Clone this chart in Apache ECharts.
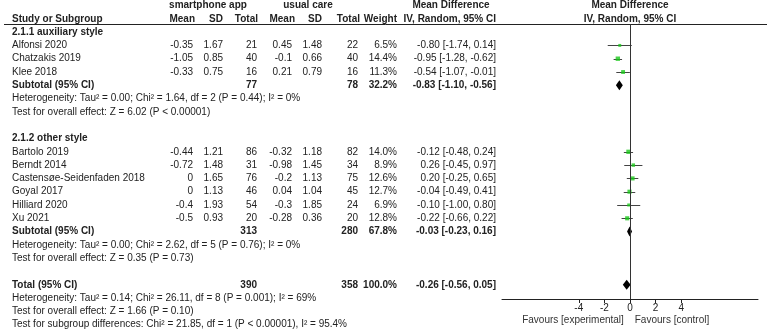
<!DOCTYPE html>
<html>
<head>
<meta charset="utf-8">
<script src="https://cdn.jsdelivr.net/npm/echarts@6/dist/echarts.min.js"></script>
<style>
html, body { margin: 0; padding: 0; background: #fff; }
#forestChart { width: 767px; height: 334px; }
</style>
</head>
<body>
<div id="forestChart"></div>
<script>
// ---- data ----
var groupNames = ['2.1.1 auxiliary style', '2.1.2 other style'];
var groupSizes = [3, 6];

var studyNames = ['Alfonsi 2020', 'Chatzakis 2019', 'Klee 2018',
    'Bartolo 2019', 'Berndt 2014', 'Castensøe-Seidenfaden 2018', 'Goyal 2017', 'Hilliard 2020', 'Xu 2021'];
var expMean = [-0.35, -1.05, -0.33, -0.44, -0.72, 0, 0, -0.4, -0.5];
var expSD = [1.67, 0.85, 0.75, 1.21, 1.48, 1.65, 1.13, 1.93, 0.93];
var expN = [21, 40, 16, 86, 31, 76, 46, 54, 20];
var ctlMean = [0.45, -0.1, 0.21, -0.32, -0.98, -0.2, 0.04, -0.3, -0.28];
var ctlSD = [1.48, 0.66, 0.79, 1.18, 1.45, 1.13, 1.04, 1.85, 0.36];
var ctlN = [22, 40, 16, 82, 34, 75, 45, 24, 20];
var weights = [6.5, 14.4, 11.3, 14.0, 8.9, 12.6, 12.7, 6.9, 12.8];
var md = [-0.80, -0.95, -0.54, -0.12, 0.26, 0.20, -0.04, -0.10, -0.22];
var ciLow = [-1.74, -1.28, -1.07, -0.48, -0.45, -0.25, -0.49, -1.00, -0.66];
var ciHigh = [0.14, -0.62, -0.01, 0.24, 0.97, 0.65, 0.41, 0.80, 0.22];

var subExpN = [77, 313];
var subCtlN = [78, 280];
var subWeight = [32.2, 67.8];
var subMd = [-0.83, -0.03];
var subLow = [-1.10, -0.23];
var subHigh = [-0.56, 0.16];
var subHet = ['Heterogeneity: Tau\u00b2 = 0.00; Chi\u00b2 = 1.64, df = 2 (P = 0.44); I\u00b2 = 0%',
    'Heterogeneity: Tau\u00b2 = 0.00; Chi\u00b2 = 2.62, df = 5 (P = 0.76); I\u00b2 = 0%'];
var subTest = ['Test for overall effect: Z = 6.02 (P < 0.00001)',
    'Test for overall effect: Z = 0.35 (P = 0.73)'];

var totalExpN = 390, totalCtlN = 358, totalWeight = 100.0;
var totalMd = -0.26, totalLow = -0.56, totalHigh = 0.05;
var totalNotes = ['Heterogeneity: Tau\u00b2 = 0.14; Chi\u00b2 = 26.11, df = 8 (P = 0.001); I\u00b2 = 69%',
    'Test for overall effect: Z = 1.66 (P = 0.10)',
    'Test for subgroup differences: Chi\u00b2 = 21.85, df = 1 (P < 0.00001), I\u00b2 = 95.4%'];

var xTicks = [-4, -2, 0, 2, 4];

// ---- layout ----
var ROW_H = 13.3, ROW0 = 5.5;
var FONT = '"Liberation Sans", Arial, sans-serif';
var col = { label: 12, eMean: 193, eSD: 223, eN: 257, cMean: 292, cSD: 322, cN: 358, w: 397, ci: 496 };

var texts = [];     // [x, row, text, align, bold]
var studyPts = [];  // [md, row, lo, hi, weight]
var diamonds = [];  // [md, row, lo, hi]

function ciText(m, l, h) {
    return m.toFixed(2) + ' [' + l.toFixed(2) + ', ' + h.toFixed(2) + ']';
}

texts.push([208, 0, 'smartphone app', 'center', true]);
texts.push([308, 0, 'usual care', 'center', true]);
texts.push([451, 0, 'Mean Difference', 'center', true]);
texts.push([630, 0, 'Mean Difference', 'center', true]);
texts.push([col.label, 1, 'Study or Subgroup', 'left', true]);
texts.push([col.eMean + 2, 1, 'Mean', 'right', true]);
texts.push([col.eSD, 1, 'SD', 'right', true]);
texts.push([col.eN + 1, 1, 'Total', 'right', true]);
texts.push([col.cMean + 3, 1, 'Mean', 'right', true]);
texts.push([col.cSD, 1, 'SD', 'right', true]);
texts.push([col.cN + 2, 1, 'Total', 'right', true]);
texts.push([col.w, 1, 'Weight', 'right', true]);
texts.push([col.ci, 1, 'IV, Random, 95% CI', 'right', true]);
texts.push([630, 1, 'IV, Random, 95% CI', 'center', true]);

var row = 2, k = 0;
for (var g = 0; g < groupNames.length; g++) {
    texts.push([col.label, row, groupNames[g], 'left', true]);
    row++;
    for (var j = 0; j < groupSizes[g]; j++, k++, row++) {
        texts.push([col.label, row, studyNames[k], 'left', false]);
        texts.push([col.eMean, row, String(expMean[k]), 'right', false]);
        texts.push([col.eSD, row, String(expSD[k]), 'right', false]);
        texts.push([col.eN, row, String(expN[k]), 'right', false]);
        texts.push([col.cMean, row, String(ctlMean[k]), 'right', false]);
        texts.push([col.cSD, row, String(ctlSD[k]), 'right', false]);
        texts.push([col.cN, row, String(ctlN[k]), 'right', false]);
        texts.push([col.w, row, weights[k].toFixed(1) + '%', 'right', false]);
        texts.push([col.ci, row, ciText(md[k], ciLow[k], ciHigh[k]), 'right', false]);
        studyPts.push([md[k], row, ciLow[k], ciHigh[k], weights[k]]);
    }
    texts.push([col.label, row, 'Subtotal (95% CI)', 'left', true]);
    texts.push([col.eN, row, String(subExpN[g]), 'right', true]);
    texts.push([col.cN, row, String(subCtlN[g]), 'right', true]);
    texts.push([col.w, row, subWeight[g].toFixed(1) + '%', 'right', true]);
    texts.push([col.ci, row, ciText(subMd[g], subLow[g], subHigh[g]), 'right', true]);
    diamonds.push([subMd[g], row, subLow[g], subHigh[g]]);
    row++;
    texts.push([col.label, row++, subHet[g], 'left', false]);
    texts.push([col.label, row++, subTest[g], 'left', false]);
    row++;
}
texts.push([col.label, row, 'Total (95% CI)', 'left', true]);
texts.push([col.eN, row, String(totalExpN), 'right', true]);
texts.push([col.cN, row, String(totalCtlN), 'right', true]);
texts.push([col.w, row, totalWeight.toFixed(1) + '%', 'right', true]);
texts.push([col.ci, row, ciText(totalMd, totalLow, totalHigh), 'right', true]);
diamonds.push([totalMd, row, totalLow, totalHigh]);
row++;
for (var n = 0; n < totalNotes.length; n++) {
    texts.push([col.label, row++, totalNotes[n], 'left', false]);
}

function rowAt(px) { return (px - ROW0) / ROW_H; }

var chart = echarts.init(document.getElementById('forestChart'));
var option = {
    animation: false,
    grid: [
        { left: 0, top: 0, width: 767, height: 334 },
        { left: 502, top: 24, width: 256, height: 275 }
    ],
    xAxis: [
        { gridIndex: 0, type: 'value', min: 0, max: 767, show: false },
        {
            gridIndex: 1, type: 'value', min: -10, max: 10,
            splitLine: { show: false },
            axisLine: { lineStyle: { color: '#222', width: 1 } },
            axisTick: { customValues: xTicks, length: 4, lineStyle: { color: '#222' } },
            axisLabel: { customValues: xTicks, color: '#222', fontSize: 10, fontFamily: FONT, margin: 4 }
        }
    ],
    yAxis: [
        { gridIndex: 0, type: 'value', inverse: true, min: rowAt(0), max: rowAt(334), show: false },
        { gridIndex: 1, type: 'value', inverse: true, min: rowAt(24), max: rowAt(299), show: false }
    ],
    graphic: [
        { type: 'line', shape: { x1: 4, y1: 24.5, x2: 767, y2: 24.5 }, style: { stroke: '#222', lineWidth: 1 } },
        { type: 'text', x: 573, y: 320, style: { text: 'Favours [experimental]', fill: '#333', font: '10px ' + FONT, align: 'center', verticalAlign: 'middle' } },
        { type: 'text', x: 672, y: 320, style: { text: 'Favours [control]', fill: '#333', font: '10px ' + FONT, align: 'center', verticalAlign: 'middle' } }
    ],
    series: [
        {
            type: 'custom',
            xAxisIndex: 0, yAxisIndex: 0,
            data: texts.map(function (t) { return [t[0], t[1]]; }),
            renderItem: function (params, api) {
                var t = texts[params.dataIndex];
                var p = api.coord([t[0], t[1]]);
                return {
                    type: 'text',
                    style: {
                        x: p[0], y: p[1], text: t[2],
                        fill: '#222',
                        font: (t[4] ? 'bold ' : '') + '10px ' + FONT,
                        align: t[3], verticalAlign: 'middle'
                    }
                };
            }
        },
        {
            type: 'custom',
            xAxisIndex: 1, yAxisIndex: 1,
            data: studyPts,
            renderItem: function (params, api) {
                var a = api.coord([api.value(2), api.value(1)]);
                var b = api.coord([api.value(3), api.value(1)]);
                return {
                    type: 'line',
                    shape: { x1: a[0], y1: Math.round(a[1]) + 0.5, x2: b[0], y2: Math.round(b[1]) + 0.5 },
                    style: { stroke: '#444', lineWidth: 1 }
                };
            },
            markLine: {
                silent: true, symbol: 'none', label: { show: false },
                lineStyle: { color: '#333', width: 1, type: 'solid' },
                data: [{ xAxis: 0 }]
            }
        },
        {
            type: 'scatter',
            xAxisIndex: 1, yAxisIndex: 1,
            symbol: 'rect',
            data: studyPts.map(function (d) { return [d[0], d[1], d[4]]; }),
            symbolSize: function (v) { return Math.max(2.5, 1.15 * Math.sqrt(v[2])); },
            itemStyle: { color: '#19c819' }
        },
        {
            type: 'custom',
            xAxisIndex: 1, yAxisIndex: 1,
            data: diamonds,
            renderItem: function (params, api) {
                var c = api.coord([api.value(0), api.value(1)]);
                var l = api.coord([api.value(2), api.value(1)]);
                var h = api.coord([api.value(3), api.value(1)]);
                return {
                    type: 'polygon',
                    shape: { points: [[l[0], c[1]], [c[0], c[1] - 5], [h[0], c[1]], [c[0], c[1] + 5]] },
                    style: { fill: '#000' }
                };
            }
        }
    ]
};
chart.setOption(option);
window.onresize = function () { chart.resize(); };
</script>
</body>
</html>
